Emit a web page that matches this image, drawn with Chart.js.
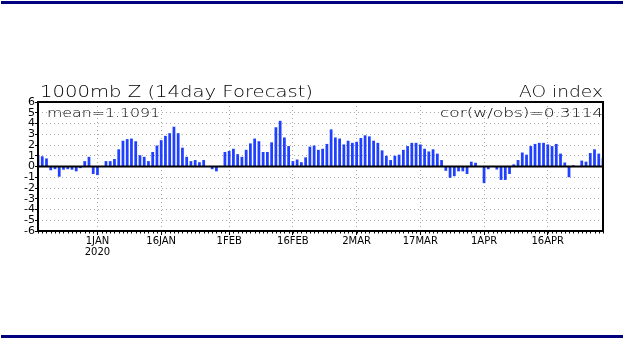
<!DOCTYPE html>
<html>
<head>
<meta charset="utf-8">
<script src="https://cdn.jsdelivr.net/npm/chart.js@4.4.1/dist/chart.umd.min.js"></script>
<style>
  body { margin: 0; background: #fff; }
  canvas { display: block; }
</style>
</head>
<body>
<canvas id="aoChart" width="624" height="338"></canvas>
<script>
// Daily AO index forecast, one value per day starting 18 Dec 2019
const startDate = [2019, 11, 18];
const aoValues = [
  1.1, 0.95, 0.75, -0.35, -0.25, -0.95, -0.3, -0.25, -0.3, -0.45,
  -0.15, 0.5, 0.9, -0.7, -0.8, 0, 0.5, 0.5, 0.7, 1.6,
  2.4, 2.55, 2.6, 2.35, 1.05, 0.9, 0.5, 1.35, 1.95, 2.45,
  2.85, 3.1, 3.7, 3.1, 1.75, 0.9, 0.5, 0.6, 0.4, 0.6,
  0, -0.25, -0.45, 0, 1.35, 1.45, 1.65, 1.15, 0.9, 1.55,
  2.15, 2.6, 2.35, 1.35, 1.35, 2.25, 3.65, 4.25, 2.7, 1.9,
  0.5, 0.65, 0.4, 0.85, 1.85, 1.95, 1.55, 1.65, 2.1, 3.45,
  2.7, 2.6, 2.05, 2.4, 2.2, 2.3, 2.65, 2.9, 2.8, 2.4,
  2.2, 1.5, 1.0, 0.6, 1.0, 1.1, 1.55, 1.9, 2.2, 2.2,
  2.05, 1.65, 1.4, 1.6, 1.2, 0.6, -0.4, -1.05, -0.9, -0.45,
  -0.45, -0.7, 0.45, 0.35, 0, -1.55, -0.25, -0.05, -0.28, -1.25,
  -1.25, -0.7, 0.2, 0.6, 1.3, 1.1, 1.9, 2.1, 2.2, 2.2,
  2.05, 1.9, 2.1, 1.2, 0.37, -1.0, 0.12, 0, 0.55, 0.45,
  1.25, 1.6, 1.2, 0.75
];
const majorDays = ['2020-01-01', '2020-01-16', '2020-02-01', '2020-02-16',
                   '2020-03-02', '2020-03-17', '2020-04-01', '2020-04-16'];
const majorLabels = [['1JAN', '2020'], '16JAN', '1FEB', '16FEB',
                     '2MAR', '17MAR', '1APR', '16APR'];
const yTicks = [-6, -5, -4, -3, -2, -1, 0, 1, 2, 3, 4, 5, 6];
const titleText = '1000mb Z (14day Forecast)';
const indexText = 'AO index';
const meanText = 'mean=1.1091';
const corText = 'cor(w/obs)=0.3114';

const days = aoValues.map((v, i) =>
  new Date(Date.UTC(startDate[0], startDate[1], startDate[2] + i)).toISOString().slice(0, 10));

const BAR_BLUE = 'rgb(32,64,255)';
const GRID_GREY = '#a8a8a8';

// draw text squeezed/stretched to a given width (GrADS fonts are wide)
function wideText(ctx, text, x, y, size, width, align) {
  ctx.font = '300 ' + size + 'px "DejaVu Sans"';
  const w = ctx.measureText(text).width;
  ctx.save();
  ctx.translate(x, y);
  ctx.scale(width / w, 1);
  ctx.textAlign = align;
  ctx.textBaseline = 'alphabetic';
  ctx.fillStyle = '#000';
  ctx.fillText(text, 0, 0);
  ctx.restore();
}

const framePlugin = {
  id: 'frame',
  beforeDraw(chart) {
    const ctx = chart.ctx;
    ctx.save();
    ctx.fillStyle = '#fff';
    ctx.fillRect(0, 0, chart.width, chart.height);
    ctx.fillStyle = '#000080';
    ctx.fillRect(1, 1, 622, 3);
    ctx.fillRect(1, 335, 622, 3);
    ctx.restore();
  },
  afterDatasetsDraw(chart) {
    const { ctx, chartArea: a, scales } = chart;
    ctx.save();
    // zero line
    const y0 = scales.y.getPixelForValue(0);
    ctx.strokeStyle = '#000';
    ctx.lineWidth = 2;
    ctx.beginPath();
    ctx.moveTo(a.left, y0);
    ctx.lineTo(a.right, y0);
    ctx.stroke();
    // frame
    ctx.strokeRect(a.left, a.top, a.right - a.left, a.bottom - a.top);
    // daily minor ticks
    ctx.lineWidth = 1;
    ctx.beginPath();
    days.forEach((d, i) => {
      const x = Math.round(scales.x.getPixelForValue(i)) + 0.5;
      ctx.moveTo(x, a.bottom);
      ctx.lineTo(x, a.bottom + 2.5);
    });
    ctx.stroke();
    ctx.restore();
  },
  afterDraw(chart) {
    const ctx = chart.ctx;
    wideText(ctx, titleText, 40, 97, 16, 273, 'left');
    wideText(ctx, indexText, 603, 97, 16, 84, 'right');
    wideText(ctx, meanText, 47, 117, 12.5, 113, 'left');
    wideText(ctx, corText, 603, 117, 13, 163, 'right');
  }
};

new Chart(document.getElementById('aoChart'), {
  type: 'bar',
  data: {
    labels: days,
    datasets: [{
      data: aoValues,
      backgroundColor: BAR_BLUE,
      borderWidth: 0,
      barPercentage: 0.65,
      categoryPercentage: 1
    }]
  },
  options: {
    responsive: false,
    animation: false,
    layout: { padding: { top: 102, right: 21, left: 0, bottom: 0 } },
    plugins: { legend: { display: false }, tooltip: { enabled: false } },
    scales: {
      x: {
        offset: false,
        afterFit: s => { s.height = 107; },
        border: { display: false, dash: [1, 3] },
        grid: {
          offset: false,
          color: c => majorDays.includes(days[c.index]) ? GRID_GREY : 'transparent',
          tickColor: c => majorDays.includes(days[c.index]) ? '#000' : 'transparent',
          tickLength: 4,
          lineWidth: 1
        },
        ticks: {
          autoSkip: false,
          maxRotation: 0,
          minRotation: 0,
          padding: 1,
          color: '#000',
          font: { family: 'DejaVu Sans', size: 10, lineHeight: 1.1 },
          callback: function (val, i) {
            const k = majorDays.indexOf(days[i]);
            return k >= 0 ? majorLabels[k] : '';
          }
        }
      },
      y: {
        min: -6,
        max: 6,
        afterFit: s => { s.width = 38; },
        afterBuildTicks: s => { s.ticks = yTicks.map(v => ({ value: v })); },
        border: { display: false, dash: [1, 3] },
        grid: {
          color: c => (c.tick && Math.abs(c.tick.value) === 6) || (c.tick && c.tick.value === 0) ? 'transparent' : GRID_GREY,
          tickColor: '#000',
          tickLength: 3
        },
        ticks: {
          autoSkip: false,
          padding: 0,
          color: '#000',
          font: { family: 'DejaVu Sans', size: 11, lineHeight: 1 },
          callback: v => String(v)
        }
      }
    }
  },
  plugins: [framePlugin]
});
</script>
</body>
</html>
